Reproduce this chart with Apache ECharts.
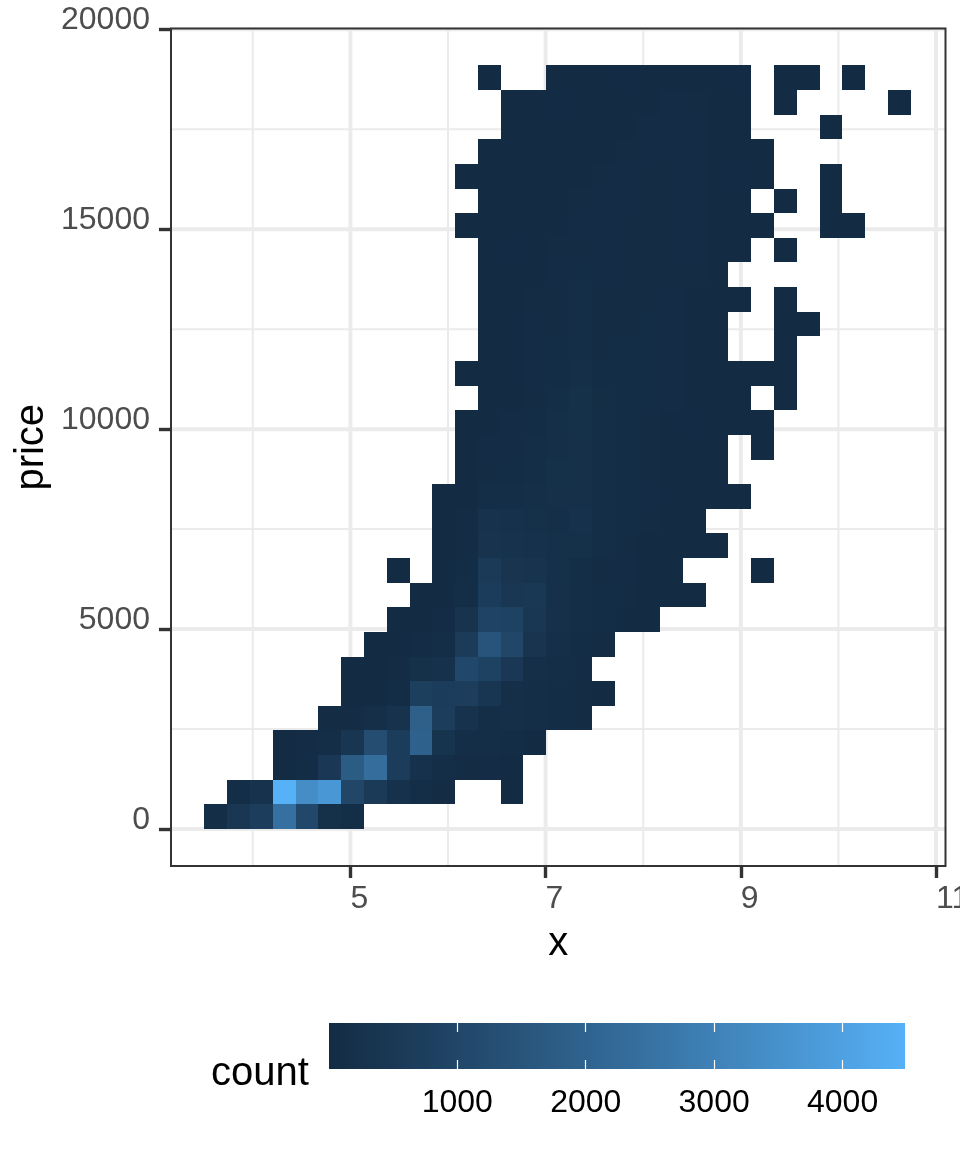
<!DOCTYPE html>
<html><head><meta charset="utf-8">
<style>html,body{margin:0;padding:0;background:#fff}#c{width:960px;height:1152px}</style>
<script src="https://cdn.jsdelivr.net/npm/echarts@6/dist/echarts.min.js"></script>
</head><body><div id="c"></div>
<script>
// Tick values
const xMajor = [5, 7, 9, 11];
const xMinor = [4, 6, 8, 10];
const yMajor = [0, 5000, 10000, 15000, 20000];
const yMinor = [2500, 7500, 12500, 17500];
const legendTicks = [1000, 2000, 3000, 4000];
const countRange = [1, 4486];
// Bins: first column centre, column width, row height (price)
const xFirstCentre = 3.6218, xBinWidth = 0.2334, yBinHeight = 616;
// Counts per row, bottom row first: [first column, counts...] segments
const row0  = [[0, 130,420,680,2450,1050,170,120]];
const row1  = [[1, 120,280,4486,3350,3700,1000,550,220,130,70],[13, 4]];
const row2  = [[3, 30,80,500,1750,2350,650,230,100,70,50,15]];
const row3  = [[3, 10,50,110,380,1250,650,1950,330,130,110,90,30]];
const row4  = [[5, 60,70,150,250,1900,700,250,120,150,100,80,60]];
const row5  = [[6, 5,35,90,750,650,700,400,150,130,90,60,5]];
const row6  = [[6, 3,20,60,180,220,1050,850,500,150,110,50]];
const row7  = [[7, 2,15,45,100,600,1500,1000,350,150,90,40]];
const row8  = [[8, 2,10,45,300,900,850,450,200,120,75,35,8]];
const row9  = [[9, 3,30,110,650,450,480,200,130,90,60,25,8,1]];
const row10 = [[8, 1],[10, 12,90,550,350,300,180,110,70,50,20,4],[24, 1]];
const row11 = [[10, 6,60,300,270,240,170,170,100,65,30,8,2,1]];
const row12 = [[10, 4,40,280,220,170,160,220,110,80,40,12,2]];
const row13 = [[10, 2,20,100,120,150,190,200,120,85,50,20,6,2,1]];
const row14 = [[11, 8,70,90,120,170,200,120,85,60,28,7,2]];
const row15 = [[11, 5,45,65,100,150,190,110,90,60,35,10,2],[24, 1]];
const row16 = [[11, 3,30,50,85,140,180,100,90,70,38,18,6,2,1]];
const row17 = [[12, 25,35,70,110,170,95,85,75,45,20,6,2],[25, 1]];
const row18 = [[11, 2,15,30,55,90,150,90,80,75,50,25,7,2,1,1]];
const row19 = [[12, 12,28,50,80,120,70,80,75,55,30,8],[25, 1]];
const row20 = [[12, 12,25,45,70,105,65,70,75,55,35,10],[25, 2,1]];
const row21 = [[12, 10,22,40,65,100,60,70,70,55,35,15,3],[25, 1]];
const row22 = [[12, 8,20,35,50,85,55,65,70,60,40,15]];
const row23 = [[12, 6,18,30,40,60,50,60,65,65,45,25,8],[25, 2]];
const row24 = [[11, 1,6,15,30,35,45,50,60,65,70,50,32,12,3],[27, 1,1]];
const row25 = [[12, 5,12,25,30,40,45,55,60,65,50,32,12],[25, 2],[27, 1]];
const row26 = [[11, 1,4,10,20,25,30,40,50,60,65,55,35,18,5],[27, 1]];
const row27 = [[12, 3,8,15,20,28,30,40,50,60,50,35,15,5]];
const row28 = [[13, 5,12,22,25,28,38,45,50,45,32,15],[27, 1]];
const row29 = [[13, 5,10,18,22,25,30,38,45,40,30,15],[25, 2],[30, 1]];
const row30 = [[12, 2],[15, 8,12,15,18,22,25,28,25,16],[25, 2,1],[28, 1]];
const rows = [row0,row1,row2,row3,row4,row5,row6,row7,row8,row9,row10,row11,row12,row13,row14,row15,
  row16,row17,row18,row19,row20,row21,row22,row23,row24,row25,row26,row27,row28,row29,row30];

const cells = [];
rows.forEach((segs, r) => segs.forEach(seg => seg.slice(1).forEach((n, i) =>
  cells.push([xFirstCentre + (seg[0] + i) * xBinWidth, (r + 0.5) * yBinHeight, n]))));

// Lab-interpolated palette between the two end colours
function toLab(h){const c=[1,3,5].map(i=>parseInt(h.substr(i,2),16)/255).map(v=>v>0.04045?Math.pow((v+0.055)/1.055,2.4):v/12.92);
  const X=(0.4124*c[0]+0.3576*c[1]+0.1805*c[2])/0.95047,Y=0.2126*c[0]+0.7152*c[1]+0.0722*c[2],Z=(0.0193*c[0]+0.1192*c[1]+0.9505*c[2])/1.08883;
  const f=t=>t>0.008856?Math.cbrt(t):7.787*t+16/116;return [116*f(Y)-16,500*(f(X)-f(Y)),200*(f(Y)-f(Z))];}
function fromLab(l){const y=(l[0]+16)/116,x=l[1]/500+y,z=y-l[2]/200,g=t=>t*t*t>0.008856?t*t*t:(t-16/116)/7.787;
  const X=g(x)*0.95047,Y=g(y),Z=g(z)*1.08883;
  const rgb=[3.2406*X-1.5372*Y-0.4986*Z,-0.9689*X+1.8758*Y+0.0415*Z,0.0557*X-0.2040*Y+1.0570*Z];
  return 'rgb('+rgb.map(v=>{v=v>0.0031308?1.055*Math.pow(v,1/2.4)-0.055:12.92*v;return Math.round(Math.min(1,Math.max(0,v))*255);}).join(',')+')';}
const lowLab = toLab('#132B43'), highLab = toLab('#56B1F7');
const palette = [];
for (let i = 0; i <= 10; i++) palette.push(fromLab(lowLab.map((v, k) => v + (highLab[k] - v) * i / 10)));

const FONT = '"Liberation Sans", Arial, Helvetica, sans-serif';
const GRID_COLOR = '#EBEBEB';
const plain = v => String(v);

function gridLines(values, vertical, width) {
  return {
    type: 'custom', xAxisIndex: 0, yAxisIndex: 0, z: 1, silent: true, animation: false,
    data: values.map(v => vertical ? [v, 0] : [0, v]),
    renderItem(params, api) {
      const b = params.coordSys;
      const p = api.coord([api.value(0), api.value(1)]);
      const shape = vertical ? {x1: p[0], y1: b.y, x2: p[0], y2: b.y + b.height}
                             : {x1: b.x, y1: p[1], x2: b.x + b.width, y2: p[1]};
      return {type: 'line', shape, style: {stroke: GRID_COLOR, lineWidth: width, fill: null}};
    }
  };
}

const chart = echarts.init(document.getElementById('c'), null, {renderer: 'canvas', width: 960, height: 1152});
chart.setOption({
  animation: false,
  backgroundColor: '#fff',
  textStyle: {fontFamily: FONT},
  grid: [
    {left: 171, top: 28.5, width: 774.5, height: 837.5, show: true, z: 3, borderColor: '#333333', borderWidth: 2, backgroundColor: 'transparent', containLabel: false, outerBoundsMode: 'none'},
    {left: 329, top: 1023, width: 576, height: 46, show: false, outerBoundsMode: 'none'}
  ],
  xAxis: [
    {type: 'value', gridIndex: 0, min: 3.162, max: 11.097, name: 'x', nameLocation: 'middle', nameGap: 58, nameMoveOverlap: false,
     nameTextStyle: {fontSize: 40, color: '#000', fontFamily: FONT},
     axisLine: {show: false, onZero: false}, splitLine: {show: false}, minorSplitLine: {show: false},
     axisTick: {show: true, length: 12, lineStyle: {color: '#333333', width: 3.4}, customValues: xMajor},
     axisLabel: {show: true, fontSize: 32, color: '#4D4D4D', margin: 17, align: 'left', fontFamily: FONT, customValues: xMajor, formatter: plain}},
    {type: 'value', gridIndex: 1, min: countRange[0], max: countRange[1], position: 'bottom', z: 5,
     axisLine: {show: false, onZero: false}, splitLine: {show: false},
     axisTick: {show: true, inside: true, length: 9, lineStyle: {color: '#fff', width: 1.2}, customValues: legendTicks},
     axisLabel: {show: true, fontSize: 32, color: '#000', margin: 18, fontFamily: FONT, customValues: legendTicks, formatter: plain}},
    {type: 'value', gridIndex: 1, min: countRange[0], max: countRange[1], position: 'top', z: 5,
     axisLine: {show: false, onZero: false}, splitLine: {show: false},
     axisTick: {show: true, inside: true, length: 9, lineStyle: {color: '#fff', width: 1.2}, customValues: legendTicks},
     axisLabel: {show: false}}
  ],
  yAxis: [
    {type: 'value', gridIndex: 0, min: -925, max: 20020, name: 'price', nameLocation: 'middle', nameGap: 119, nameMoveOverlap: false,
     nameTextStyle: {fontSize: 40, color: '#000', fontFamily: FONT},
     axisLine: {show: false, onZero: false}, splitLine: {show: false},
     axisTick: {show: true, length: 12, lineStyle: {color: '#333333', width: 3.4}, customValues: yMajor},
     axisLabel: {show: true, fontSize: 32, color: '#4D4D4D', margin: 21, lineHeight: 18, verticalAlign: 'bottom', fontFamily: FONT, customValues: yMajor, formatter: plain}},
    {type: 'value', gridIndex: 1, min: 0, max: 1, show: false}
  ],
  visualMap: {show: false, type: 'continuous', min: countRange[0], max: countRange[1], dimension: 2, seriesIndex: 4, inRange: {color: palette}},
  graphic: [{type: 'text', left: 211, top: 1054, style: {text: 'count', font: '40px ' + FONT, fill: '#000'}}],
  series: [
    gridLines(xMinor, true, 2),
    gridLines(yMinor, false, 2),
    gridLines(xMajor, true, 4),
    gridLines(yMajor, false, 4),
    {type: 'custom', xAxisIndex: 0, yAxisIndex: 0, z: 2, animation: false, data: cells, encode: {x: 0, y: 1},
     renderItem(params, api) {
       const x = api.value(0), y = api.value(1);
       const a = api.coord([x - xBinWidth / 2, y + yBinHeight / 2]);
       const b = api.coord([x + xBinWidth / 2, y - yBinHeight / 2]);
       const l = Math.round(a[0]), t = Math.round(a[1]), r = Math.round(b[0]), d = Math.round(b[1]);
       return {type: 'rect', shape: {x: l, y: t, width: r - l, height: d - t}, style: {fill: api.visual('color')}};
     }},
    {type: 'custom', xAxisIndex: 1, yAxisIndex: 1, z: 2, silent: true, animation: false, data: [[countRange[0], countRange[1]]],
     renderItem(params, api) {
       const a = api.coord([api.value(0), 1]), b = api.coord([api.value(1), 0]);
       const stops = palette.map((c, i) => ({offset: i / (palette.length - 1), color: c}));
       return {type: 'rect', shape: {x: a[0], y: a[1], width: b[0] - a[0], height: b[1] - a[1]},
               style: {fill: new echarts.graphic.LinearGradient(0, 0, 1, 0, stops)}};
     }}
  ]
});
</script></body></html>
